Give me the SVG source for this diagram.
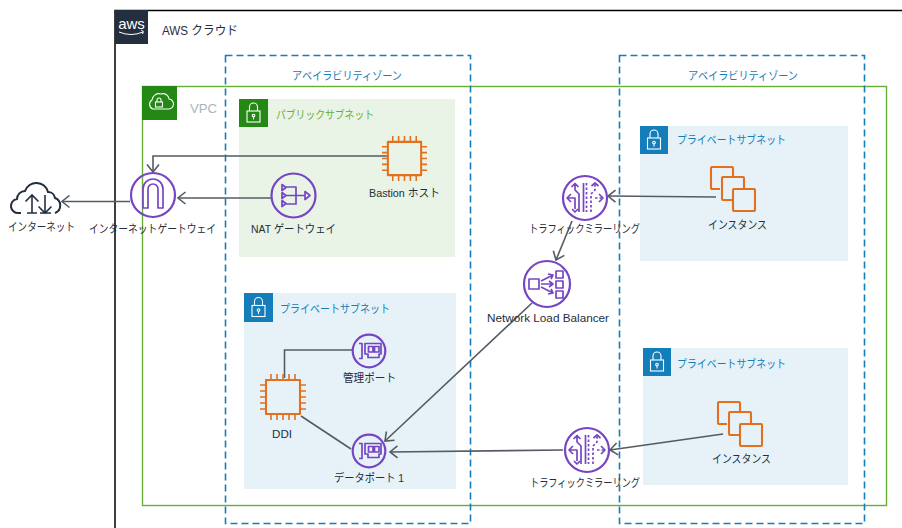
<svg xmlns="http://www.w3.org/2000/svg" width="902" height="528" viewBox="0 0 902 528">
<style>
text{font-family:"Liberation Sans","Noto Sans CJK JP",sans-serif;font-size:11.5px;fill:#232f3e}
.blue{fill:#147eba}.green{fill:#6aaf35}
.az{fill:none;stroke:#147eba;stroke-width:1.6;stroke-dasharray:7 4}
.ring{fill:none;stroke:#7545c4;stroke-width:2.2}
.pi{fill:none;stroke:#7545c4;stroke-width:1.7;stroke-linejoin:round}
.or{fill:none;stroke:#e2701f;stroke-width:2.1;stroke-linejoin:round}
.wh{fill:none;stroke:#fff;stroke-width:1.1}
.conn{fill:none;stroke:#545b64;stroke-width:1.6}
</style>
<defs>
<marker id="a" viewBox="0 0 11 14" refX="9.500" refY="7" markerWidth="11" markerHeight="14" markerUnits="userSpaceOnUse" orient="auto"><path d="M2 1 L9.500 7 L2 13" fill="none" stroke="#545b64" stroke-width="1.600"/></marker>
<symbol id="lock" viewBox="0 0 28 28" overflow="visible"><rect class="wh" x="7.500" y="12" width="13" height="11"/><path class="wh" d="M10 12V8a4 4 0 0 1 8 0v4"/><circle class="wh" cx="14" cy="16.500" r="1.300"/><path class="wh" d="M14 18v2.500"/></symbol>
<symbol id="chip" viewBox="0 0 46 46" overflow="visible"><rect class="or" x="6" y="6" width="34" height="34"/><path class="or" style="stroke-width:1.600" d="M11 0v6M17 0v6M23 0v6M29 0v6M35 0v6M11 40v6M17 40v6M23 40v6M29 40v6M35 40v6M0 11h6M0 17h6M0 23h6M0 29h6M0 35h6M40 11h6M40 17h6M40 23h6M40 29h6M40 35h6"/></symbol>
<symbol id="stack" viewBox="0 0 46 46" overflow="visible"><path class="or" d="M10 23H2a1 1 0 0 1-1-1V2a1 1 0 0 1 1-1h20a1 1 0 0 1 1 1v9"/><path class="or" d="M22 34H13a1 1 0 0 1-1-1V12a1 1 0 0 1 1-1h20a1 1 0 0 1 1 1v11"/><rect class="or" x="23" y="23" width="22" height="22" rx="1"/></symbol>
<symbol id="mirror" viewBox="-23 -23 46 46" overflow="visible"><circle class="ring" r="22"/><path class="pi" d="M-1.500-15V14M-6 14V-4L-10-8V-14M-13.500-11L-10-14.500L-6.500-11M-17 0H-10V11M-14-4L-18 0L-14 4M-13 11L-10 14L-7 11"/><path class="pi" stroke-dasharray="2.500 2" d="M1.500-15V14M6 14V-4L10-8V-14M17 0H8"/><path class="pi" d="M14-4L18 0L14 4M6.500-12L10-15L13.500-12"/></symbol>
<symbol id="eni" viewBox="-17 -17 34 34" overflow="visible"><circle class="ring" r="16.300"/><path class="pi" d="M-10-7.500h3v15h-3M-4-7.500H12V3H10v3.500H-1V3H-4zM-.5-4.500h4.500v5.500h-4.500zM5.500-4.500H10v5.500H5.500z"/></symbol>
</defs>

<g id="aws-cloud"><path d="M115 528V10.500H902" fill="none" stroke="#000" stroke-width="1.500"/><rect x="115" y="10" width="33" height="34" fill="#232f3e"/><text x="131.500" y="29" text-anchor="middle" style="font-size:15px;fill:#fff">aws</text><path d="M119 32q12 5 24 0M141 30l2.500 1.500-1 2.500" fill="none" stroke="#fff" stroke-width="1"/><text x="162" y="35" textLength="76" lengthAdjust="spacingAndGlyphs" style="font-size:12.500px">AWS クラウド</text></g>

<g id="vpc"><rect x="142.500" y="86.500" width="744" height="419" fill="none" stroke="#6aaf35" stroke-width="1.400"/><rect x="142" y="86" width="35" height="34" fill="#248814"/><path class="wh" d="M153 109h15a5 5 0 0 0 1-10 6 6 0 0 0-8-5 7 7 0 0 0-9 6 5 5 0 0 0 1 9z"/><rect class="wh" x="155.500" y="102" width="7" height="5"/><path class="wh" d="M157 102v-2a2 2 0 0 1 4 0v2"/><text x="190" y="113" textLength="27" lengthAdjust="spacingAndGlyphs" style="font-size:13px;fill:#aab7b8">VPC</text></g>

<g id="subnet-public"><rect x="239" y="99" width="216" height="158" fill="#e9f3e6"/><rect x="239" y="99" width="29" height="28" fill="#248814"/><use href="#lock" x="239.500" y="99" width="28" height="28"/><text class="green" x="276" y="119" textLength="98" lengthAdjust="spacingAndGlyphs">パブリックサブネット</text></g>
<g id="subnet-private-left"><rect x="244" y="293" width="212" height="196" fill="#e6f2f8"/><rect x="244" y="293" width="29" height="29" fill="#147eba"/><use href="#lock" x="244.500" y="293.500" width="28" height="28"/><text class="blue" x="280" y="313" textLength="110" lengthAdjust="spacingAndGlyphs">プライベートサブネット</text></g>
<g id="subnet-private-top"><rect x="640" y="126" width="208" height="135" fill="#e6f2f8"/><rect x="640" y="126" width="28" height="28" fill="#147eba"/><use href="#lock" x="640" y="126" width="28" height="28"/><text class="blue" x="677" y="144" textLength="109" lengthAdjust="spacingAndGlyphs">プライベートサブネット</text></g>
<g id="subnet-private-bottom"><rect x="643" y="348" width="205" height="137" fill="#e6f2f8"/><rect x="643" y="348" width="28" height="28" fill="#147eba"/><use href="#lock" x="643" y="348" width="28" height="28"/><text class="blue" x="677" y="368" textLength="109" lengthAdjust="spacingAndGlyphs">プライベートサブネット</text></g>

<g id="az-1"><rect class="az" x="225.500" y="55.500" width="245" height="468"/><text class="blue" x="292" y="80" textLength="110" lengthAdjust="spacingAndGlyphs">アベイラビリティゾーン</text></g>
<g id="az-2"><rect class="az" x="619.500" y="55.500" width="245" height="468"/><text class="blue" x="688" y="80" textLength="110" lengthAdjust="spacingAndGlyphs">アベイラビリティゾーン</text></g>

<g id="connectors">
<path class="conn" marker-end="url(#a)" d="M387 156H153V172"/>
<path class="conn" marker-end="url(#a)" d="M271 198H178"/>
<path class="conn" marker-end="url(#a)" d="M130 201.500H62"/>
<path class="conn" marker-end="url(#a)" d="M716 197L608 196"/>
<path class="conn" marker-end="url(#a)" d="M572 221L556 260"/>
<path class="conn" marker-end="url(#a)" d="M532 303L385 441"/>
<path class="conn" d="M301 416L351 449"/>
<path class="conn" d="M284.500 378V350H352"/>
<path class="conn" marker-end="url(#a)" d="M723 434L610 450"/>
<path class="conn" marker-end="url(#a)" d="M563 450L390 452"/>
</g>

<g id="internet"><path d="M23 214H21a7 7 0 0 1-2-14 8 8 0 0 1 8-8 12 12 0 0 1 23 1 7 7 0 0 1 7 6 8 8 0 0 1 0 15" fill="none" stroke="#232f3e" stroke-width="2" transform="translate(-2 -1)"/><path d="M32 213V195M25.500 201.500l6.500-6.500 6.500 6.500M45 195v18M38.500 206.500l6.500 6.500 6.500-6.500M27 213h10M40 213h11" fill="none" stroke="#232f3e" stroke-width="1.600"/><text x="8" y="231" textLength="67" lengthAdjust="spacingAndGlyphs">インターネット</text></g>

<g id="igw"><circle class="ring" cx="153" cy="195" r="22"/><path class="pi" d="M143 208V189a10 10 0 0 1 20 0V208H158V189a5 5 0 0 0-10 0V208z"/><text x="89" y="233" textLength="127" lengthAdjust="spacingAndGlyphs">インターネットゲートウェイ</text></g>
<g id="nat"><circle class="ring" cx="293.500" cy="195.500" r="22"/><path class="pi" d="M282 184.500l4 3-4 3zM282 192.500l4 3-4 3zM282 200.500l4 3-4 3zM286 187h10v17h-10M286 195.500h19M305 191.500l5 4-5 4z"/><text x="251" y="233" textLength="85" lengthAdjust="spacingAndGlyphs">NAT ゲートウェイ</text></g>
<g id="bastion"><use href="#chip" x="382" y="136" width="45" height="45"/><text x="369" y="197" textLength="71" lengthAdjust="spacingAndGlyphs">Bastion ホスト</text></g>
<g id="ddi"><use href="#chip" x="260" y="374" width="46" height="46"/><text x="272" y="438" textLength="20" lengthAdjust="spacingAndGlyphs">DDI</text></g>
<g id="mgmt-port"><use href="#eni" x="352" y="334" width="34" height="34"/><text x="343" y="382" textLength="53" lengthAdjust="spacingAndGlyphs">管理ポート</text></g>
<g id="data-port"><use href="#eni" x="352" y="434" width="34" height="34"/><text x="334" y="482" textLength="70" lengthAdjust="spacingAndGlyphs">データポート 1</text></g>
<g id="mirror-1"><use href="#mirror" x="562" y="175" width="46" height="46"/><text x="529" y="233" textLength="111" lengthAdjust="spacingAndGlyphs">トラフィックミラーリング</text></g>
<g id="nlb"><circle class="ring" cx="547" cy="284" r="23"/><path class="pi" d="M529 279h10v10h-10zM541 284h12M549 281l4 3-4 3M541 281l12-6M548 274l5 1-2 4M541 287l12 6M551 289l2 4-5 1M556 271h7v7h-7zM556 281h7v7h-7zM556 291h7v7h-7z"/><text x="487" y="322" textLength="122" lengthAdjust="spacingAndGlyphs">Network Load Balancer</text></g>
<g id="mirror-2"><use href="#mirror" x="564" y="427" width="46" height="46"/><text x="530" y="487" textLength="110" lengthAdjust="spacingAndGlyphs">トラフィックミラーリング</text></g>
<g id="instances-1"><use href="#stack" x="710" y="166" width="46" height="46"/><text x="708" y="229" textLength="59" lengthAdjust="spacingAndGlyphs">インスタンス</text></g>
<g id="instances-2"><use href="#stack" x="717" y="401" width="46" height="46"/><text x="712" y="463" textLength="59" lengthAdjust="spacingAndGlyphs">インスタンス</text></g>
</svg>
